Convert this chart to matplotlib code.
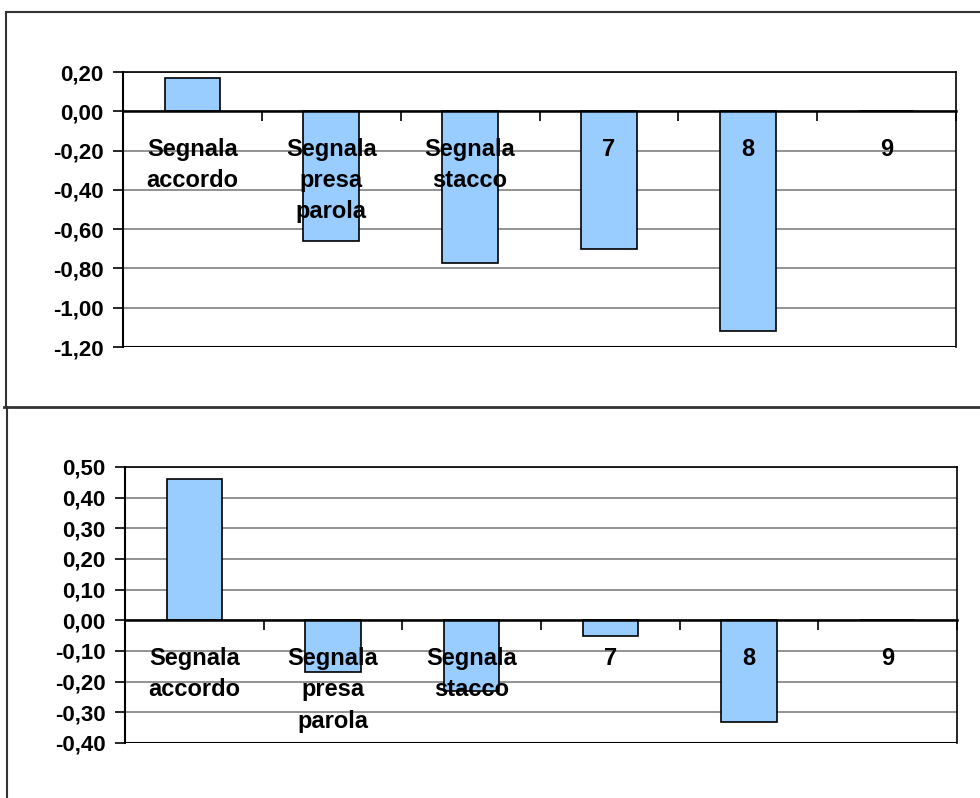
import matplotlib.pyplot as plt
from matplotlib.lines import Line2D
from matplotlib.ticker import FuncFormatter, FixedLocator

plt.rcParams["font.family"] = ["Liberation Sans", "DejaVu Sans"]
plt.rcParams["font.weight"] = "bold"

categories = ["Segnala\naccordo", "Segnala\npresa\nparola", "Segnala\nstacco", "7", "8", "9"]
values_top = [0.17, -0.66, -0.77, -0.70, -1.12, 0.0]
values_bottom = [0.46, -0.17, -0.23, -0.05, -0.33, 0.0]
ticks_top = [0.20, 0.00, -0.20, -0.40, -0.60, -0.80, -1.00, -1.20]
ticks_bottom = [0.50, 0.40, 0.30, 0.20, 0.10, 0.00, -0.10, -0.20, -0.30, -0.40]

bar_color = "#99ccff"
W, H = 980, 798

fig = plt.figure(figsize=(W / 100, H / 100), dpi=100)

# outer chart frames
frame_kw = dict(transform=fig.transFigure, color="#333333", linewidth=1.5)
fig.add_artist(Line2D([6 / W, 1.0], [1 - 12 / H, 1 - 12 / H], **frame_kw))
fig.add_artist(Line2D([6 / W, 6 / W], [1 - 12 / H, 1 - 407 / H], **frame_kw))
fig.add_artist(Line2D([4 / W, 1.0], [1 - 407 / H, 1 - 407 / H], linewidth=2,
                      transform=fig.transFigure, color="#333333"))
fig.add_artist(Line2D([7 / W, 7 / W], [1 - 407 / H, 0], **frame_kw))


def fmt(v, _):
    s = f"{v:.2f}".replace(".", ",")
    if s == "-0,00":
        s = "0,00"
    return s


def panel(rect, values, ticks):
    l, t, r, b = rect
    ax = fig.add_axes([l / W, 1 - b / H, (r - l) / W, (b - t) / H])
    x = list(range(len(categories)))
    ax.bar(x, values, width=0.4, color=bar_color, edgecolor="black",
           linewidth=1.2, zorder=3)
    ax.set_xlim(-0.5, len(categories) - 0.5)
    ax.set_ylim(min(ticks), max(ticks))
    ax.yaxis.set_major_locator(FixedLocator(ticks))
    ax.yaxis.set_major_formatter(FuncFormatter(fmt))
    ax.grid(axis="y", color="#808080", linewidth=1.2, zorder=0)
    ax.tick_params(axis="y", length=7, width=1.2, labelsize=16, pad=7)
    # x axis at zero
    ax.spines["bottom"].set_position(("data", 0))
    ax.spines["bottom"].set_linewidth(1.8)
    ax.spines["bottom"].set_zorder(4)
    ax.set_xticks([i - 0.5 for i in range(len(categories) + 1)])
    ax.set_xticklabels([])
    ax.tick_params(axis="x", direction="out", length=7, width=1.2)
    ax.spines["left"].set_linewidth(1.5)
    ax.spines["top"].set_linewidth(1.2)
    ax.spines["right"].set_linewidth(1.2)
    ax.axhline(min(ticks), color="black", linewidth=1.5, zorder=4)
    for i, c in enumerate(categories):
        ax.annotate(c, xy=(i, 0), xytext=(0, -27), textcoords="offset pixels",
                    ha="center", va="top", fontsize=17, fontweight="bold",
                    linespacing=1.45, zorder=5)
    return ax


panel((123, 72, 956, 347), values_top, ticks_top)
panel((125, 467, 957, 743), values_bottom, ticks_bottom)

fig.savefig("out.png", dpi=100)
